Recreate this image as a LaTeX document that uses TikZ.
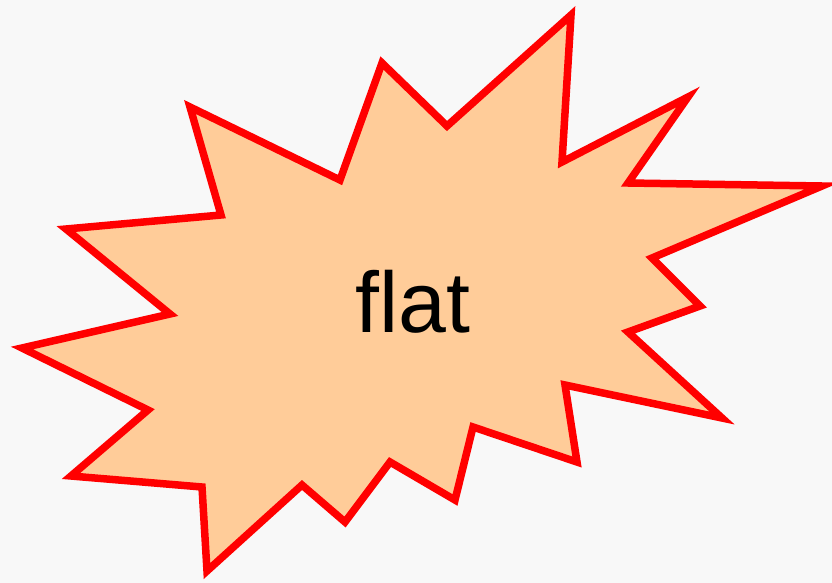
\documentclass[tikz,border=0pt]{standalone}
\usepackage{fontspec}
\setmainfont{Liberation Sans}
\definecolor{bg}{HTML}{F8F8F8}
\definecolor{peach}{HTML}{FFCC99}
\begin{document}
\begin{tikzpicture}[x=1pt,y=-1pt,
  burst/.style={draw=red,fill=peach,line width=7.5pt,line join=miter,miter limit=20},
  label/.style={font=\fontsize{86}{90}\selectfont,text=black}]
\fill[bg] (0,0) rectangle (832,583);
\useasboundingbox (0,0) rectangle (832,583);
\draw[burst] (571,15) -- (562,162) -- (688,97) -- (628,183) -- (822,186)
  -- (652,258) -- (700,306) -- (628,332) -- (722,418) -- (565,385)
  -- (577,462) -- (473,427) -- (455,500) -- (390,462) -- (345,522)
  -- (302,485) -- (207,571) -- (202,487) -- (71,476) -- (148,410)
  -- (22,348) -- (170,314) -- (66,229) -- (221,215) -- (190,107)
  -- (340,180) -- (382,63) -- (447,126) -- cycle;
\node[label] (t) at (413,302) {flat};
\end{tikzpicture}
\end{document}
